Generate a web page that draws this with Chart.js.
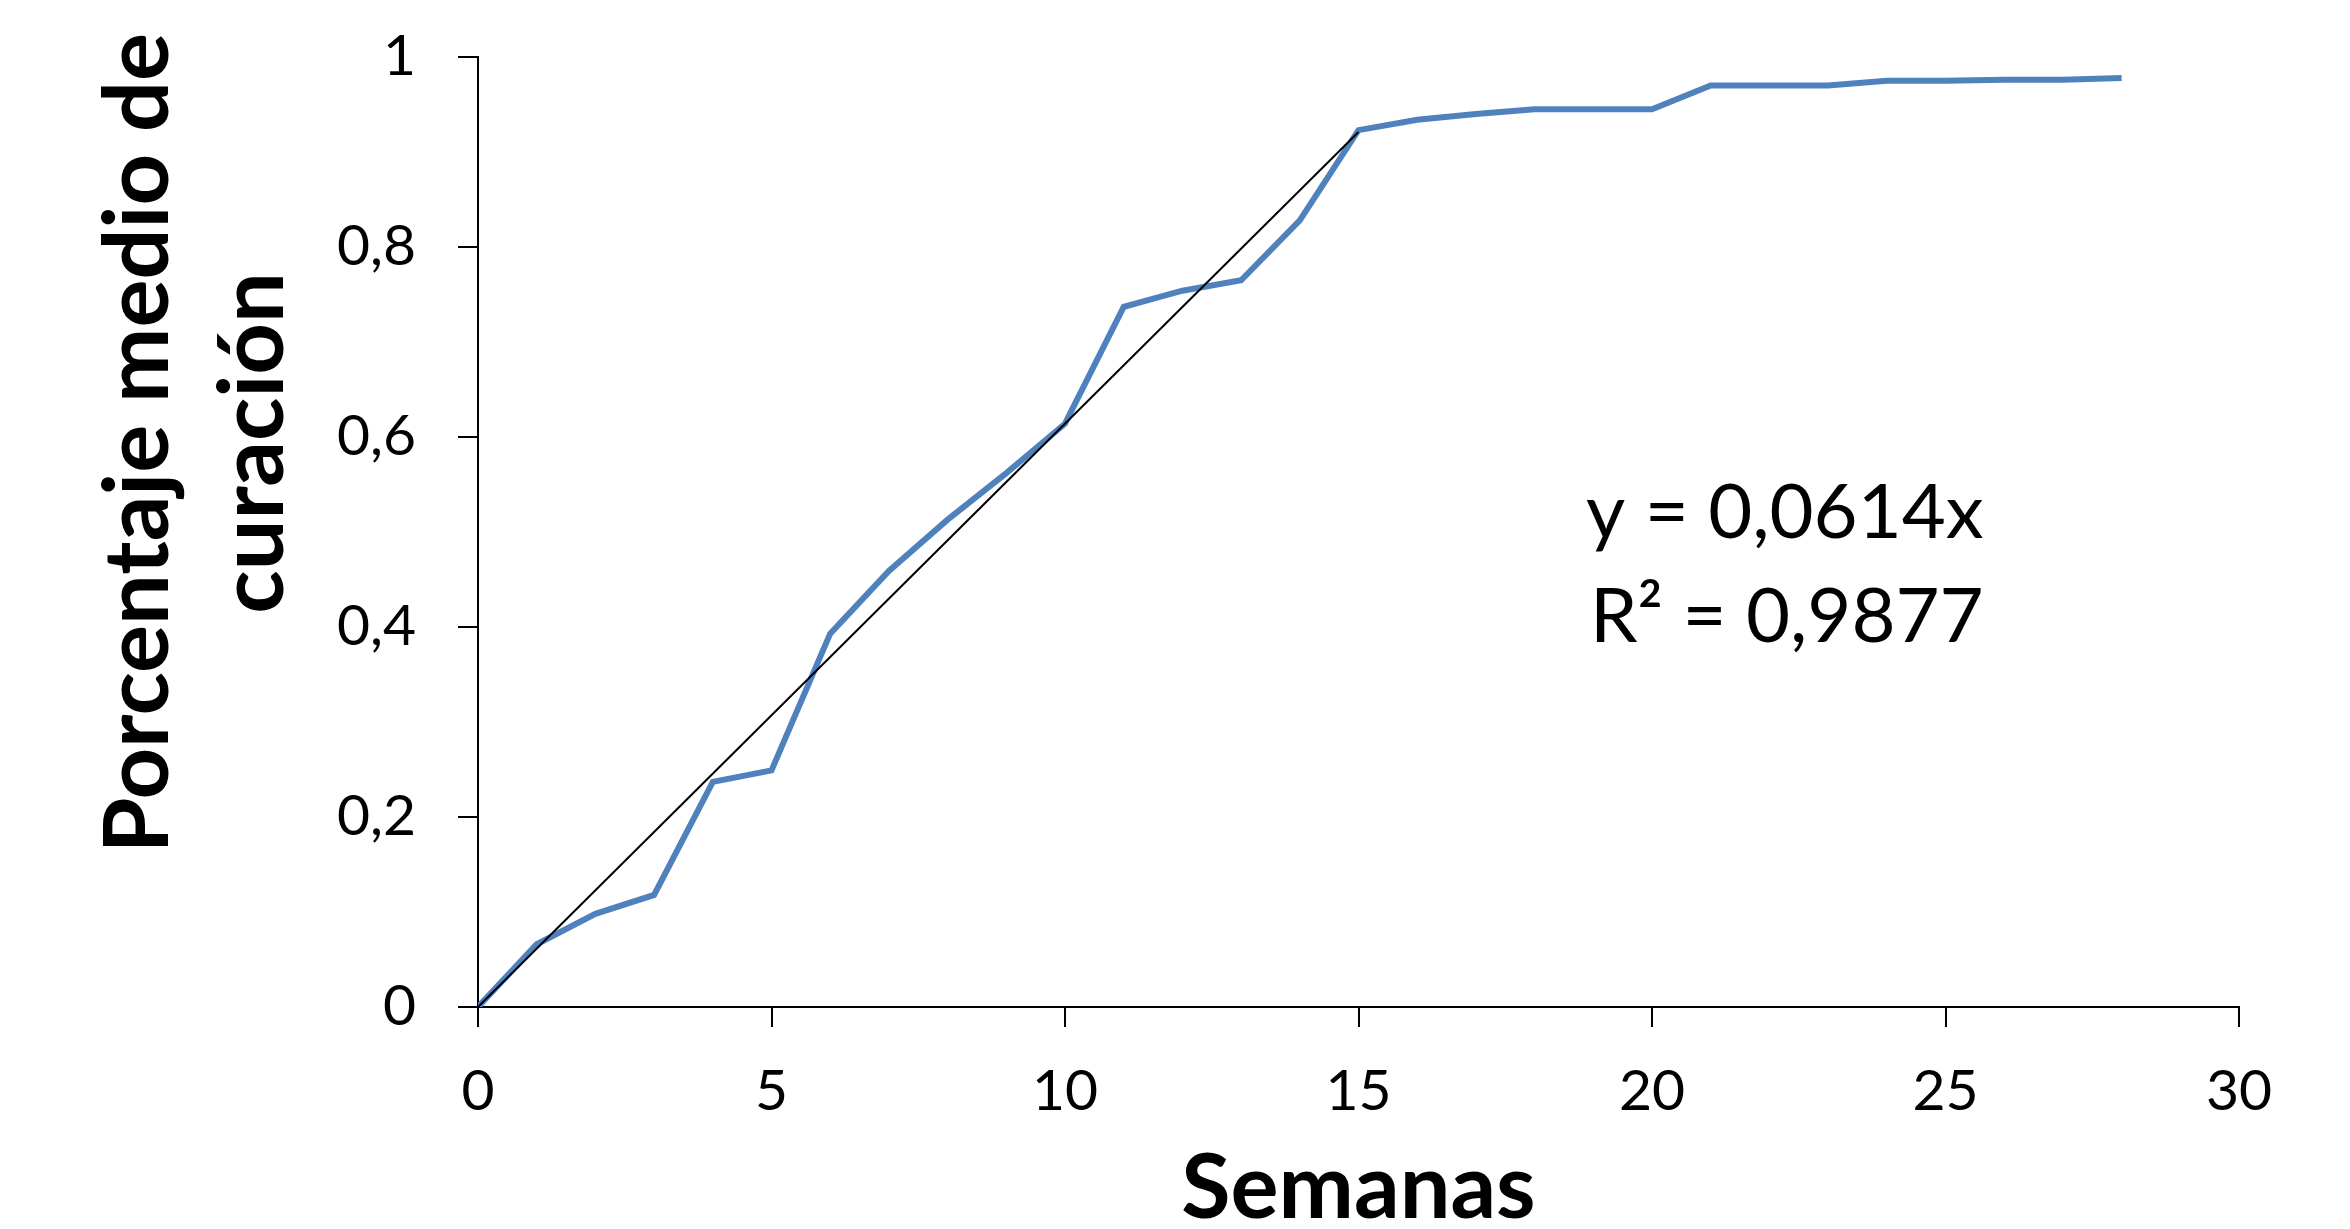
<!DOCTYPE html>
<html>
<head>
<meta charset="utf-8">
<script src="https://cdn.jsdelivr.net/npm/chart.js@4/dist/chart.umd.min.js"></script>
<style>
  html, body { margin: 0; padding: 0; background: #fff; }
  canvas { display: block; }
</style>
</head>
<body>
<canvas id="c" width="2350" height="1229"></canvas>
<script>
// weekly mean healing percentage
var semanas = [0, 1, 2, 3, 4, 5, 6, 7, 8, 9, 10, 11, 12, 13, 14, 15, 16, 17, 18, 19, 20, 21, 22, 23, 24, 25, 26, 27, 28];
var curacion = [0, 0.066, 0.098, 0.118, 0.237, 0.249, 0.393, 0.459, 0.513, 0.562, 0.614, 0.737, 0.754, 0.765, 0.828,
  0.923, 0.934, 0.940, 0.945, 0.945, 0.945, 0.970, 0.970, 0.970, 0.975, 0.975, 0.976, 0.976, 0.978];
// linear trend (through origin), drawn from week 0 to 15
var tendenciaX = [0, 15];
var tendenciaY = [0, 0.921];
var xTicks = [0, 5, 10, 15, 20, 25, 30];
var yTickLabels = ['0', '0,2', '0,4', '0,6', '0,8', '1'];
var ecuacion = ['y = 0,0614x', 'R² = 0,9877'];

var FONT = 'Lato, "Open Sans", sans-serif';

var textPlugin = {
  id: 'texts',
  afterDraw: function (chart) {
    var ctx = chart.ctx;
    var area = chart.chartArea;
    ctx.save();
    ctx.fillStyle = '#000';
    // x axis title
    ctx.font = 'bold 90px ' + FONT;
    ctx.textAlign = 'center';
    ctx.textBaseline = 'alphabetic';
    ctx.fillText('Semanas', (area.left + area.right) / 2, 1218);
    // y axis title, two lines
    ctx.save();
    ctx.translate(168, 443);
    ctx.rotate(-Math.PI / 2);
    ctx.fillText('Porcentaje medio de', 0, 0);
    ctx.fillText('curación', 0, 115);
    ctx.restore();
    // trend equation
    ctx.font = '76px ' + FONT;
    ctx.textAlign = 'left';
    ctx.fillText(ecuacion[0], 1586, 538);
    ctx.fillText(ecuacion[1], 1590, 642);
    ctx.restore();
  }
};

new Chart(document.getElementById('c').getContext('2d'), {
  type: 'scatter',
  data: {
    datasets: [{
      label: 'Tendencia',
      data: tendenciaX.map((x, i) => ({ x: x, y: tendenciaY[i] })),
      showLine: true,
      borderColor: '#000',
      borderWidth: 2,
      pointRadius: 0,
      order: 0
    }, {
      label: 'Curación',
      data: semanas.map((x, i) => ({ x: x, y: curacion[i] })),
      showLine: true,
      borderColor: '#4F81BD',
      borderWidth: 6,
      pointRadius: 0,
      tension: 0,
      order: 1
    }]
  },
  options: {
    responsive: false,
    animation: false,
    devicePixelRatio: 1,
    layout: { padding: { top: 57, right: 111, left: 0, bottom: 0 } },
    plugins: {
      legend: { display: false },
      tooltip: { enabled: false }
    },
    scales: {
      x: {
        type: 'linear',
        min: 0,
        max: 30,
        afterFit: function (s) { s.height = 222; s.paddingRight = 0; },
        afterBuildTicks: function (s) { s.ticks = xTicks.map(v => ({ value: v })); },
        grid: { drawOnChartArea: false, drawTicks: true, tickLength: 20, color: '#000', lineWidth: 2 },
        border: { display: true, color: '#000', width: 2 },
        ticks: {
          color: '#000',
          font: { family: FONT, size: 57 },
          padding: 30,
          maxRotation: 0,
          callback: function (v) { return String(v); }
        }
      },
      y: {
        type: 'linear',
        min: 0,
        max: 1,
        afterFit: function (s) { s.width = 478; s.paddingTop = 0; s.paddingBottom = 0; },
        afterBuildTicks: function (s) { s.ticks = yTickLabels.map((t, i) => ({ value: i * 0.2 })); },
        grid: { drawOnChartArea: false, drawTicks: true, tickLength: 20, color: '#000', lineWidth: 2 },
        border: { display: true, color: '#000', width: 2 },
        ticks: {
          color: '#000',
          font: { family: FONT, size: 57 },
          padding: 42,
          callback: function (v, i) { return yTickLabels[i]; }
        }
      }
    }
  },
  plugins: [textPlugin]
});
</script>
</body>
</html>
